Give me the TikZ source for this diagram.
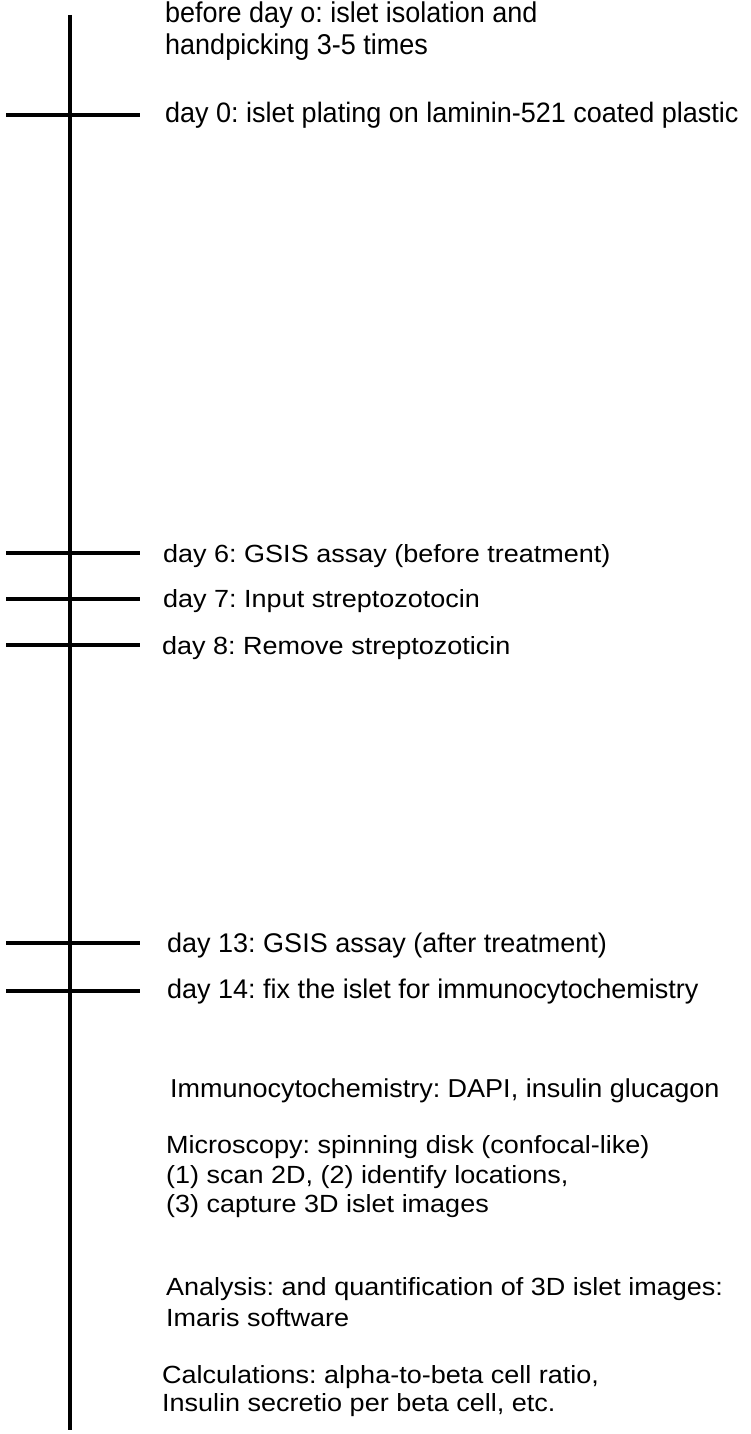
\documentclass[tikz,border=0pt]{standalone}
\usepackage{fontspec}
\usepackage{graphicx}
\setmainfont{Liberation Sans}
\newcommand\vsq[2]{\scalebox{1}[#1]{#2}}
\begin{document}
\frenchspacing
\begin{tikzpicture}[x=1pt,y=-1pt,
  lbl/.style={anchor=base west,inner sep=0pt,font=\fontsize{27}{32}\selectfont\frenchspacing,text=black},
  axis/.style={line width=3.7pt,black},
  tick/.style={line width=3.5pt,black}]
\useasboundingbox[fill=white] (0,0) rectangle (750,1434);
% timeline
\coordinate (top) at (70,15);
\coordinate (bot) at (70,1430);
\draw[axis] (top) -- (bot);
% ticks
\foreach \n/\y in {d0/115,d6/553,d7/599,d8/645,d13/943,d14/991}{
  \coordinate (\n L) at (6,\y);
  \coordinate (\n R) at (140,\y);
  \draw[tick] (\n L) -- (\n R);
}
% labels
\node[lbl] (pre1) at (165,23) {\vsq{1.06}{before day o: islet isolation and}};
\node[lbl] (pre2) at (165,55) {\vsq{1.06}{handpicking 3-5 times}};
\node[lbl] (day0) at (165,123) {\vsq{1.04}{day 0: islet plating on laminin-521 coated plastic}};
\node[lbl] (day6) at (163,562) {\vsq{0.92}{day 6: GSIS assay (before treatment)}};
\node[lbl] (day7) at (163,607) {\vsq{0.92}{day 7: Input streptozotocin}};
\node[lbl] (day8) at (162,654) {\vsq{0.92}{day 8: Remove streptozoticin}};
\node[lbl] (day13) at (167,952) {day 13: GSIS assay (after treatment)};
\node[lbl] (day14) at (167,998) {day 14: fix the islet for immunocytochemistry};
\node[lbl] (icc) at (170,1097) {\vsq{0.96}{Immunocytochemistry: DAPI, insulin glucagon}};
\node[lbl] (mic1) at (166,1153) {\vsq{0.92}{Microscopy: spinning disk (confocal-like)}};
\node[lbl] (mic2) at (166,1183) {\vsq{0.92}{(1) scan 2D, (2) identify locations,}};
\node[lbl] (mic3) at (166,1212) {\vsq{0.92}{(3) capture 3D islet images}};
\node[lbl] (ana1) at (166,1295) {\vsq{0.92}{Analysis: and quantification of 3D islet images:}};
\node[lbl] (ana2) at (166,1326) {\vsq{0.92}{Imaris software}};
\node[lbl] (cal1) at (162,1383) {\vsq{0.92}{Calculations: alpha-to-beta cell ratio,}};
\node[lbl] (cal2) at (162,1411) {\vsq{0.92}{Insulin secretio per beta cell, etc.}};
\end{tikzpicture}
\end{document}
